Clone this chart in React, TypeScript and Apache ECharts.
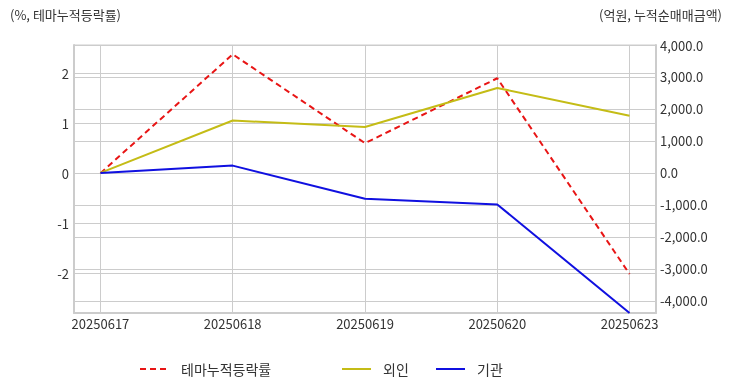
import React, { useEffect, useRef } from "react";
import * as echarts from "echarts";

const categories = ["20250617", "20250618", "20250619", "20250620", "20250623"];
const themeRate = [0, 2.38, 0.6, 1.9, -2.02];
const foreign = [0, 1639, 1433, 2657, 1785];
const institution = [0, 227, -810, -988, -4383];
const leftTicks = [-2, -1, 0, 1, 2];
const rightTicks = [-4000, -3000, -2000, -1000, 0, 1000, 2000, 3000, 4000];
const seriesNames = ["테마누적등락률", "외인", "기관"];
const leftTitle = "(%, 테마누적등락률)";
const rightTitle = "(억원, 누적순매매금액)";

const FONT = "'Noto Sans CJK KR', 'Noto Sans', sans-serif";

export default function App() {
  const ref = useRef<HTMLDivElement>(null);
  useEffect(() => {
    if (!ref.current) return;
    const chart = echarts.init(ref.current, undefined, { renderer: "svg" });
    const idx = categories.map((_, i) => i);
    const grid = "#cccccc";
    const text = "#333333";
    chart.setOption({
      animation: false,
      textStyle: { fontFamily: FONT },
      grid: {
        left: 74,
        right: 76,
        top: 45,
        bottom: 79,
        show: true,
        borderColor: grid,
        borderWidth: 1,
      },
      graphic: [
        {
          type: "text",
          left: 10,
          top: 8,
          style: { text: leftTitle, fill: text, font: `13px ${FONT}` },
        },
        {
          type: "text",
          right: 10,
          top: 8,
          style: { text: rightTitle, fill: text, font: `13px ${FONT}` },
        },
      ],
      legend: [0, 1, 2].map((i) => ({
        data: [seriesNames[i]],
        left: [139, 341, 435][i],
        top: 362,
        padding: 0,
        itemWidth: 29,
        itemHeight: 14,
        itemStyle: { opacity: 0 },
        textStyle: {
          color: text,
          fontSize: 14,
          fontFamily: FONT,
          padding: [0, 0, 0, 7],
        },
      })),
      xAxis: {
        type: "value",
        min: -0.2,
        max: 4.2,
        axisLine: { show: true, onZero: false, lineStyle: { color: grid, width: 2 } },
        axisTick: { show: false, customValues: idx },
        splitLine: { show: true, lineStyle: { color: grid } },
        axisLabel: {
          customValues: idx,
          color: text,
          fontSize: 13,
          margin: 4,
          formatter: (v: number) => categories[Math.round(v)] ?? "",
        },
      },
      yAxis: [
        {
          type: "value",
          min: -2.8,
          max: 2.566,
          position: "left",
          axisLine: { show: true, onZero: false, lineStyle: { color: grid, width: 2 } },
          axisTick: { show: false, customValues: leftTicks },
          splitLine: { show: true, lineStyle: { color: grid } },
          axisLabel: {
            customValues: leftTicks,
            color: text,
            fontSize: 13,
            margin: 5,
          },
        },
        {
          type: "value",
          min: -4383,
          max: 4000,
          position: "right",
          axisLine: { show: true, onZero: false, lineStyle: { color: grid, width: 2 } },
          axisTick: { show: false, customValues: rightTicks },
          splitLine: { show: true, lineStyle: { color: grid } },
          axisLabel: {
            customValues: rightTicks,
            color: text,
            fontSize: 13,
            margin: 4,
            formatter: (v: number) =>
              v.toLocaleString("en-US", {
                minimumFractionDigits: 1,
                maximumFractionDigits: 1,
              }),
          },
        },
      ],
      series: [
        {
          name: seriesNames[0],
          type: "line",
          yAxisIndex: 0,
          data: themeRate.map((v, i) => [i, v]),
          symbol: "none",
          lineStyle: { color: "#e81515", width: 2, type: [6, 4] },
          itemStyle: { color: "#e81515" },
        },
        {
          name: seriesNames[1],
          type: "line",
          yAxisIndex: 1,
          data: foreign.map((v, i) => [i, v]),
          symbol: "none",
          lineStyle: { color: "#c4bc16", width: 2 },
          itemStyle: { color: "#c4bc16" },
        },
        {
          name: seriesNames[2],
          type: "line",
          yAxisIndex: 1,
          data: institution.map((v, i) => [i, v]),
          symbol: "none",
          lineStyle: { color: "#1010e0", width: 2 },
          itemStyle: { color: "#1010e0" },
        },
      ],
    });
    return () => chart.dispose();
  }, []);
  return (
    <div
      ref={ref}
      style={{ position: "fixed", left: 0, top: 0, width: 732, height: 392 }}
    />
  );
}
